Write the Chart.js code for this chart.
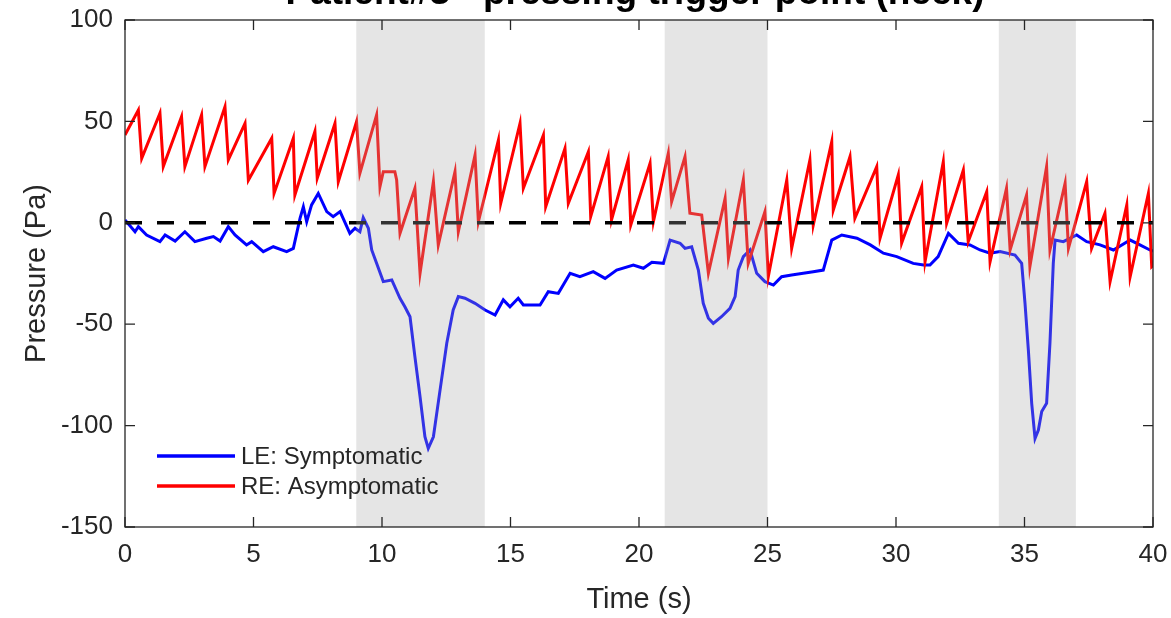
<!DOCTYPE html>
<html>
<head>
<meta charset="utf-8">
<title>Pressure vs time</title>
<script src="https://cdn.jsdelivr.net/npm/chart.js@4.4.1/dist/chart.umd.min.js"></script>
<style>
  html, body { margin: 0; padding: 0; background: #ffffff; }
  #pressureChart { display: block; }
</style>
</head>
<body>
<canvas id="pressureChart" width="1171" height="618"></canvas>
<script>
/* Data */

const chartTitle = "Patient#3 - pressing trigger point (neck)";
const seriesLabels = ["LE: Symptomatic", "RE: Asymptomatic"];

const leTime = [0, 0.39, 0.52, 0.84, 1.36, 1.56, 1.95, 2.33, 2.72, 3.18, 3.44, 3.7, 4.02, 4.28, 4.73, 4.93,
    5.38, 5.77, 6.29, 6.55, 6.81, 6.94, 7.07, 7.26, 7.52, 7.85, 8.1, 8.37, 8.75, 8.95, 9.14, 9.27, 9.47,
    9.6, 9.79, 10.05, 10.38, 10.7, 10.89, 11.09, 11.28, 11.48, 11.67, 11.8, 12.0, 12.26, 12.52, 12.77,
    12.97, 13.23, 13.62, 14.01, 14.4, 14.72, 14.98, 15.3, 15.5, 15.82, 16.15, 16.47, 16.86, 17.32, 17.7,
    18.22, 18.68, 19.13, 19.78, 20.17, 20.5, 20.95, 21.21, 21.6, 21.79, 22.05, 22.31, 22.5, 22.7, 22.89,
    23.21, 23.54, 23.74, 23.86, 24.06, 24.32, 24.58, 24.9, 25.23, 25.55, 25.94, 26.39, 26.78, 27.17,
    27.5, 27.89, 28.48, 29.0, 29.51, 30.03, 30.67, 31.07, 31.32, 31.64, 32.04, 32.43, 32.88, 33.27,
    33.66, 34.05, 34.63, 34.89, 35.02, 35.15, 35.28, 35.41, 35.54, 35.67, 35.86, 35.99, 36.12, 36.19,
    36.51, 37.03, 37.42, 37.94, 38.46, 39.11, 39.49, 39.88, 40];
const lePressure = [1.4, -4.4, -1.9, -6, -9.3, -6, -9, -4.4, -9.3, -7.6, -6.8, -9, -1.9, -6, -10.9, -9.3,
    -14.2, -11.8, -14.2, -12.6, 2.2, 7.9, 0.5, 8.8, 14.5, 5.5, 3, 5.5, -5.2, -2.7, -4.4, 2.5, -2.7,
    -13.4, -20, -29, -28.2, -37.2, -41.4, -46.3, -66, -85.7, -105.5, -111.2, -105.5, -82.4, -59.4, -43,
    -36.4, -37.2, -39.7, -43, -45.5, -38, -41.4, -37.2, -40.5, -40.5, -40.5, -34, -34.8, -24.9, -26.6,
    -24.1, -27.4, -23.3, -20.8, -22.4, -19.5, -20, -8.5, -10.1, -12.6, -11.8, -23.3, -39.7, -47.1, -49.6,
    -46.3, -42.2, -36.4, -23.3, -16.7, -13.4, -24.9, -29, -30.7, -26.6, -25.7, -24.9, -24.1, -23.3,
    -8.5, -6, -7.6, -10.9, -15, -16.7, -20, -20.8, -20.8, -16.7, -5.2, -10.1, -10.9, -13.4,
    -15, -14.2, -15.9, -20, -39.7, -62.7, -89, -106.3, -102.2, -93.1, -89, -59.4, -20, -8.5,
    -9.3, -6, -9.3, -10.9, -13.4, -8.5, -10.9, -13.4, -14];

const reTime = [0, 0.52, 0.65, 1.36, 1.49, 2.2, 2.33, 2.98, 3.11, 3.89, 4.02, 4.67, 4.8, 5.71, 5.8,
    6.55, 6.61, 7.39, 7.48, 8.17, 8.3, 9.01, 9.14, 9.79, 9.92, 10.05, 10.5, 10.57, 10.7, 11.28, 11.48,
    12.0, 12.19, 12.84, 12.97, 13.62, 13.75, 14.53, 14.62, 15.37, 15.5, 16.28, 16.37, 17.12, 17.25,
    18.03, 18.12, 18.8, 18.93, 19.58, 19.68, 20.43, 20.56, 21.14, 21.27, 21.79, 21.98, 22.44, 22.7,
    23.35, 23.48, 24.06, 24.25, 24.9, 25.03, 25.75, 25.94, 26.65, 26.78, 27.5, 27.56, 28.21, 28.4,
    29.25, 29.38, 30.09, 30.22, 31.0, 31.13, 31.84, 31.97, 32.62, 32.81, 33.53, 33.66, 34.3, 34.44,
    35.08, 35.21, 35.86, 35.99, 36.58, 36.71, 37.42, 37.61, 38.13, 38.33, 38.98, 39.11, 39.82, 39.95, 40];
const rePressure = [43.3, 55.6, 31.8, 54, 27.7, 52.3, 27.7, 53.2, 27.7, 57.2, 31, 49, 21, 41.7, 14.5,
    41.7, 13.7, 45, 22, 49, 20.3, 49.9, 24.4, 53.2, 17.8, 25.2, 25.2, 21.1, -5.2, 17, -24.9,
    20.3, -11, 25.2, -4.4, 33.4, 0.5, 40.8, 9.6, 49, 17, 43.3, 7.9, 36.7, 9.6,
    35, 3, 32.6, 1.4, 31, -1.1, 29.3, 0.5, 34.3, 10.4, 32.6, 4.7, 3.8, -24.9,
    12, -17.5, 21.1, -20, 5.5, -26.6, 21.1, -12.6, 31, -1.1, 40, 6.3, 32.6, 2.2,
    27.7, -7.6, 23.6, -10, 17.8, -19.2, 30.1, -0.3, 26, -9.3, 15.3, -19.2, 17, -13.4,
    13.7, -21.6, 27.7, -13.4, 19.5, -12.6, 20.3, -12.6, 4.7, -29, 8.8, -26.6, 14.5, -21.6, -21];

const zeroLineTime = [0, 40];
const zeroLinePressure = [0, 0];

// shaded "pressing" intervals (s)
const bandStart = [9, 21, 34];
const bandEnd = [14, 25, 37];

const xTicks = [0, 5, 10, 15, 20, 25, 30, 35, 40];
const yTicks = [-150, -100, -50, 0, 50, 100];

/* helpers */

const toPoints = (xs, ys) => xs.map((x, i) => ({ x: x, y: ys[i] }));

const textColor = "#262626";
const fontFamily = "'Liberation Sans', Arial, Helvetica, sans-serif";

/* plugin: bands, box, inward ticks, legend, titles */

const matlabFrame = {
    id: "matlabFrame",
    afterDatasetsDraw(chart) {
        const ctx = chart.ctx;
        const area = chart.chartArea;
        const xScale = chart.scales.x;
        const yScale = chart.scales.y;

        ctx.save();
        ctx.fillStyle = "rgba(168, 168, 168, 0.3)";
        bandStart.forEach((start, i) => {
            const x1 = xScale.getPixelForValue(start);
            const x2 = xScale.getPixelForValue(bandEnd[i]);
            ctx.fillRect(x1, area.top, x2 - x1, area.bottom - area.top);
        });

        // box
        ctx.strokeStyle = textColor;
        ctx.lineWidth = 1.3;
        ctx.strokeRect(area.left, area.top, area.right - area.left, area.bottom - area.top);

        // inward ticks on all sides
        const tickLen = 10;
        ctx.beginPath();
        xTicks.forEach(value => {
            const px = xScale.getPixelForValue(value);
            ctx.moveTo(px, area.bottom);
            ctx.lineTo(px, area.bottom - tickLen);
            ctx.moveTo(px, area.top);
            ctx.lineTo(px, area.top + tickLen);
        });
        yTicks.forEach(value => {
            const py = yScale.getPixelForValue(value);
            ctx.moveTo(area.left, py);
            ctx.lineTo(area.left + tickLen, py);
            ctx.moveTo(area.right, py);
            ctx.lineTo(area.right - tickLen, py);
        });
        ctx.stroke();
        ctx.restore();
    },
    afterDraw(chart) {
        const ctx = chart.ctx;
        const area = chart.chartArea;
        const midX = (area.left + area.right) / 2;

        ctx.save();

        // legend (no box)
        const legendRows = [
            { label: seriesLabels[0], color: chart.data.datasets[0].borderColor, y: 456 },
            { label: seriesLabels[1], color: chart.data.datasets[1].borderColor, y: 486 }
        ];
        ctx.font = "24px " + fontFamily;
        ctx.textAlign = "left";
        ctx.textBaseline = "middle";
        legendRows.forEach(row => {
            ctx.strokeStyle = row.color;
            ctx.lineWidth = 3.5;
            ctx.beginPath();
            ctx.moveTo(157, row.y);
            ctx.lineTo(235, row.y);
            ctx.stroke();
            ctx.fillStyle = textColor;
            ctx.fillText(row.label, 241, row.y + 1);
        });

        // axis titles
        ctx.fillStyle = textColor;
        ctx.font = "29px " + fontFamily;
        ctx.textAlign = "center";
        ctx.textBaseline = "middle";
        ctx.fillText("Time (s)", midX, 600);

        ctx.save();
        ctx.translate(37, (area.top + area.bottom) / 2);
        ctx.rotate(-Math.PI / 2);
        ctx.fillText("Pressure (Pa)", 0, 0);
        ctx.restore();

        // title, cut off by the top edge like in the figure
        ctx.font = "bold 37px " + fontFamily;
        ctx.textBaseline = "alphabetic";
        ctx.fillStyle = "#000000";
        ctx.fillText(chartTitle, midX - 4, 4);

        ctx.restore();
    }
};

/* chart */

new Chart(document.querySelector("#pressureChart"), {
    type: "line",
    data: {
        datasets: [
            {
                label: seriesLabels[0],
                data: toPoints(leTime, lePressure),
                borderColor: "#0000ff",
                borderWidth: 3,
                pointRadius: 0,
                tension: 0,
                order: 2
            },
            {
                label: seriesLabels[1],
                data: toPoints(reTime, rePressure),
                borderColor: "#ff0000",
                borderWidth: 3,
                pointRadius: 0,
                tension: 0,
                order: 1
            },
            {
                label: "zero",
                data: toPoints(zeroLineTime, zeroLinePressure),
                borderColor: "#000000",
                borderWidth: 3.5,
                borderDash: [17, 15],
                pointRadius: 0,
                order: 0
            }
        ]
    },
    options: {
        responsive: false,
        devicePixelRatio: 1,
        animation: false,
        layout: {
            padding: { top: 20, right: 18, left: 0, bottom: 0 }
        },
        plugins: {
            legend: { display: false },
            tooltip: { enabled: false }
        },
        scales: {
            x: {
                type: "linear",
                min: 0,
                max: 40,
                afterFit: scale => {
                    scale.height = 91;
                    scale.paddingLeft = 0;
                    scale.paddingRight = 0;
                },
                afterBuildTicks: scale => {
                    scale.ticks = xTicks.map(v => ({ value: v }));
                },
                ticks: {
                    color: textColor,
                    font: { size: 26, family: fontFamily },
                    padding: 12,
                    maxRotation: 0
                },
                grid: { display: false, drawTicks: false },
                border: { display: false }
            },
            y: {
                type: "linear",
                min: -150,
                max: 100,
                afterFit: scale => {
                    scale.width = 125;
                    scale.paddingTop = 0;
                    scale.paddingBottom = 0;
                },
                afterBuildTicks: scale => {
                    scale.ticks = yTicks.map(v => ({ value: v }));
                },
                ticks: {
                    color: textColor,
                    font: { size: 26, family: fontFamily },
                    padding: 12
                },
                grid: { display: false, drawTicks: false },
                border: { display: false }
            }
        }
    },
    plugins: [matlabFrame]
});
</script>
</body>
</html>
